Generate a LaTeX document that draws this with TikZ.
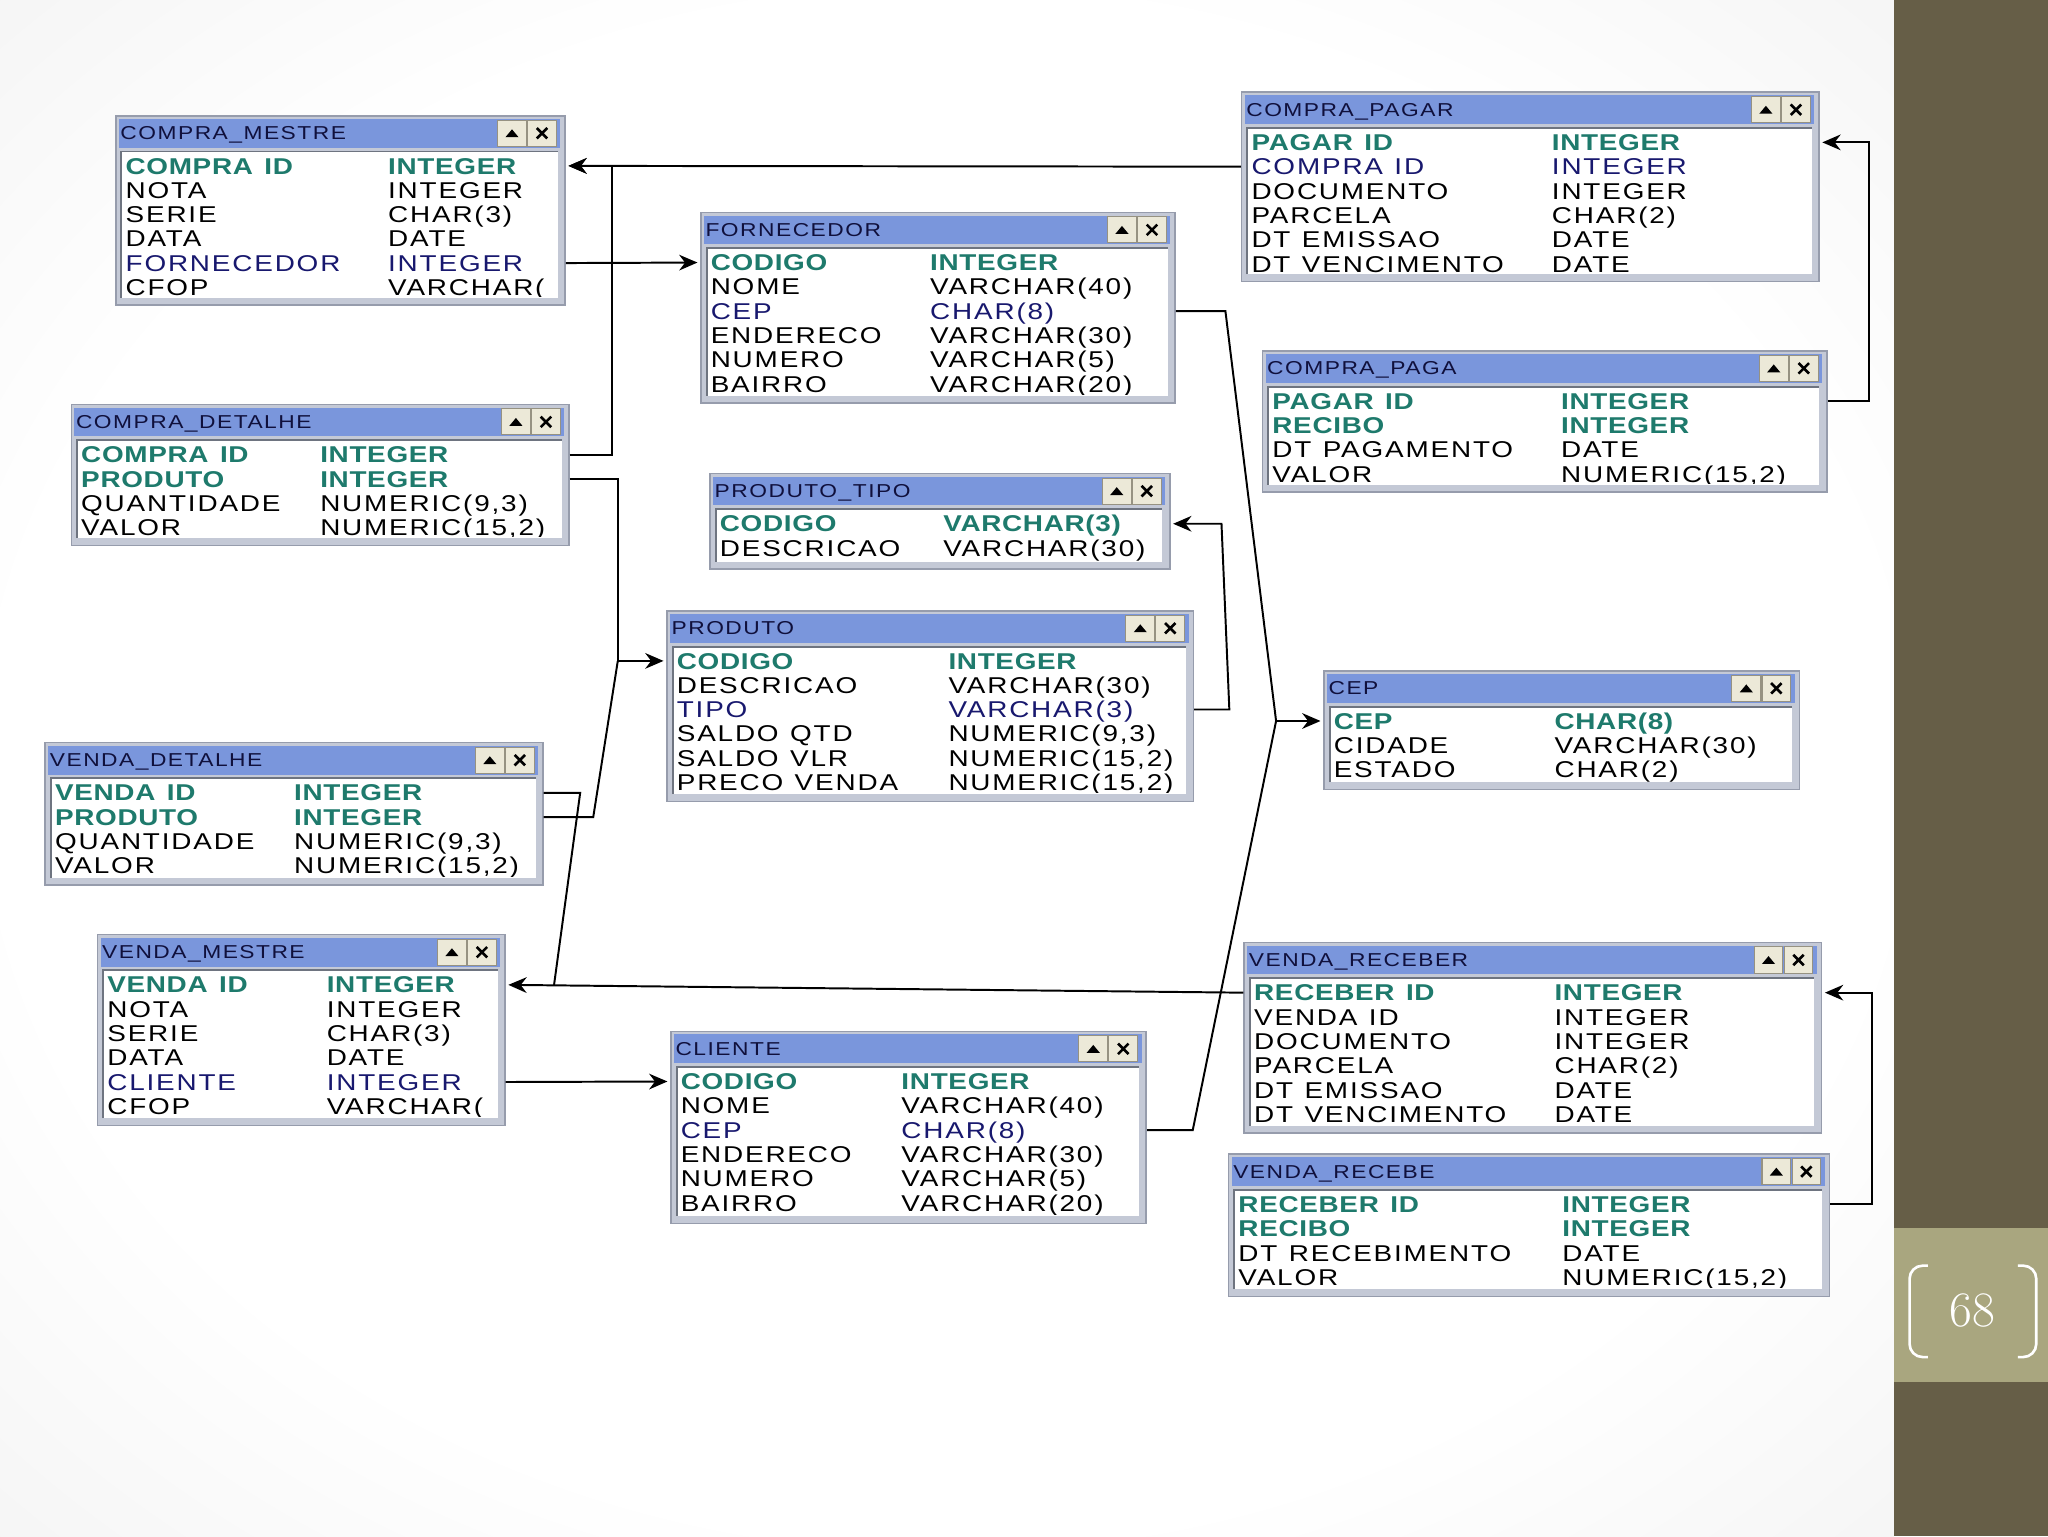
\documentclass[tikz,border=0pt]{standalone}
\usepackage{fontspec}
\usepackage{tikz}
\usetikzlibrary{arrows.meta,calc}
\newfontfamily\tabfont[FakeStretch=1.22,LetterSpace=8,BoldFeatures={LetterSpace=3}]{Liberation Sans}
\definecolor{pkcol}{RGB}{30,122,108}
\definecolor{fkcol}{RGB}{24,24,110}
\definecolor{titlecol}{RGB}{122,150,220}
\definecolor{titletext}{RGB}{16,16,60}
\definecolor{framecol}{RGB}{196,201,214}
\definecolor{framedge}{RGB}{150,156,172}
\definecolor{sunkcol}{RGB}{110,116,128}
\definecolor{btncol}{RGB}{236,233,216}
\definecolor{btnedge}{RGB}{150,146,130}
\definecolor{sidecol}{RGB}{102,94,71}
\definecolor{bandcol}{RGB}{169,166,127}
\pgfdeclareradialshading{slideglow}{\pgfpointorigin}{color(0bp)=(white); color(25bp)=(white); color(50bp)=(black!9); color(71bp)=(black!17)}

\begin{document}
\begin{tikzpicture}[x=1pt,y=-1pt,>=Stealth]
    \tikzset{
        field/.style={
            anchor=west,inner sep=0pt,text height=12.5pt,text depth=0pt,
            font=\tabfont\fontsize{17.5}{19}\selectfont
        },
        fld/.style={text=black},
        fk/.style={text=fkcol},
        pk/.style={text=pkcol,font=\tabfont\bfseries\fontsize{17.5}{19}\selectfont},
        tblframe/.style={draw=framedge,fill=framecol,line width=1.2pt,inner sep=0pt},
        tblname/.style={
            anchor=west,inner sep=0pt,text height=10pt,text depth=0pt,
            text=titletext,font=\tabfont\fontsize{14.3}{16}\selectfont
        },
        tblbutton/.style={fill=btncol,draw=btnedge,line width=0.8pt},
        link/.style={line width=1.5pt},
        linkto/.style={link,-{Stealth[length=14pt,width=12pt,inset=4.5pt]},shorten >=2pt},
        pagenum/.style={text=white,font=\fontsize{38}{38}\selectfont},
        bracket/.style={draw=white,line width=2pt,rounded corners=10pt},
        pics/dbtable/.style n args={5}{code={
            \node[tblframe,minimum width=#1pt,minimum height=#2pt,anchor=north west]
                (-box) at (0,0) {};
            \fill[titlecol] (3,3) rectangle (#1-3,25);
            \node[tblname] (-name) at (4,14) {#3};
            \filldraw[tblbutton] (#1-51,4) rectangle (#1-29,24);
            \filldraw[tblbutton] (#1-28,4) rectangle (#1-6,24);
            \fill (#1-45,17) -- (#1-35,17) -- (#1-40,11) -- cycle;
            \draw[line width=2pt] (#1-21,10) -- (#1-13,18) (#1-21,18) -- (#1-13,10);
            \fill[white] (5,28) rectangle (#1-5,#2-5);
            \draw[sunkcol,line width=1.5pt] (5,#2-5) -- (5,28) -- (#1-5,28);
            \begin{scope}
                \clip (6,29) rectangle (#1-6,#2-6);
                \foreach \fname/\ftype/\fstyle [count=\i] in {#5}{
                    \node[field,\fstyle] (-n\i) at (8,20.4+18.6*\i) {\fname};
                    \node[field,\fstyle] (-t\i) at (#4,20.4+18.6*\i) {\ftype};
                }
            \end{scope}
        }}
    }

    \useasboundingbox (0,0) rectangle (1568,1176);
    \shade[shading=slideglow] (0,0) rectangle (1450,1176);
    \fill[sidecol] (1450,0) rectangle (1568,1176);
    \fill[bandcol] (1450,940) rectangle (1568,1058);
    \draw[bracket] (1476,969) -- (1462,969) -- (1462,1039) -- (1476,1039);
    \draw[bracket] (1545,969) -- (1559,969) -- (1559,1039) -- (1545,1039);
    \node[pagenum] (pgnum) at (1510,1003) {68};

    \pic (cm) at (88,88) {dbtable={344}{145}{COMPRA\_MESTRE}{209}{COMPRA\enspace ID/INTEGER/pk,NOTA/INTEGER/fld,SERIE/CHAR(3)/fld,DATA/DATE/fld,FORNECEDOR/INTEGER/fk,CFOP/VARCHAR(/fld}};
    \pic (forn) at (536,162) {dbtable={363}{146}{FORNECEDOR}{176}{CODIGO/INTEGER/pk,NOME/VARCHAR(40)/fld,CEP/CHAR(8)/fk,ENDERECO/VARCHAR(30)/fld,NUMERO/VARCHAR(5)/fld,BAIRRO/VARCHAR(20)/fld}};
    \pic (cpagar) at (950,70) {dbtable={442}{145}{COMPRA\_PAGAR}{238}{PAGAR\enspace ID/INTEGER/pk,COMPRA\enspace ID/INTEGER/fk,DOCUMENTO/INTEGER/fld,PARCELA/CHAR(2)/fld,DT\enspace EMISSAO/DATE/fld,DT\enspace VENCIMENTO/DATE/fld}};
    \pic (cpaga) at (966,268) {dbtable={432}{108}{COMPRA\_PAGA}{229}{PAGAR\enspace ID/INTEGER/pk,RECIBO/INTEGER/pk,DT\enspace PAGAMENTO/DATE/fld,VALOR/{NUMERIC(15,2)}/fld}};
    \pic (cdet) at (54,309) {dbtable={381}{108}{COMPRA\_DETALHE}{191}{COMPRA\enspace ID/INTEGER/pk,PRODUTO/INTEGER/pk,QUANTIDADE/{NUMERIC(9,3)}/fld,VALOR/{NUMERIC(15,2)}/fld}};
    \pic (ptipo) at (543,362) {dbtable={352}{73}{PRODUTO\_TIPO}{179}{CODIGO/VARCHAR(3)/pk,DESCRICAO/VARCHAR(30)/fld}};
    \pic (prod) at (510,467) {dbtable={403}{146}{PRODUTO}{216}{CODIGO/INTEGER/pk,DESCRICAO/VARCHAR(30)/fld,TIPO/VARCHAR(3)/fk,SALDO\enspace QTD/{NUMERIC(9,3)}/fld,SALDO\enspace VLR/{NUMERIC(15,2)}/fld,PRECO\enspace VENDA/{NUMERIC(15,2)}/fld}};
    \pic (cep) at (1013,513) {dbtable={364}{91}{CEP}{177}{CEP/CHAR(8)/pk,CIDADE/VARCHAR(30)/fld,ESTADO/CHAR(2)/fld}};
    \pic (vdet) at (34,568) {dbtable={381}{109}{VENDA\_DETALHE}{191}{VENDA\enspace ID/INTEGER/pk,PRODUTO/INTEGER/pk,QUANTIDADE/{NUMERIC(9,3)}/fld,VALOR/{NUMERIC(15,2)}/fld}};
    \pic (vm) at (74,715) {dbtable={312}{146}{VENDA\_MESTRE}{176}{VENDA\enspace ID/INTEGER/pk,NOTA/INTEGER/fld,SERIE/CHAR(3)/fld,DATA/DATE/fld,CLIENTE/INTEGER/fk,CFOP/VARCHAR(/fld}};
    \pic (cli) at (513,789) {dbtable={364}{147}{CLIENTE}{177}{CODIGO/INTEGER/pk,NOME/VARCHAR(40)/fld,CEP/CHAR(8)/fk,ENDERECO/VARCHAR(30)/fld,NUMERO/VARCHAR(5)/fld,BAIRRO/VARCHAR(20)/fld}};
    \pic (vrec) at (952,721) {dbtable={442}{146}{VENDA\_RECEBER}{238}{RECEBER\enspace ID/INTEGER/pk,VENDA\enspace ID/INTEGER/fld,DOCUMENTO/INTEGER/fld,PARCELA/CHAR(2)/fld,DT\enspace EMISSAO/DATE/fld,DT\enspace VENCIMENTO/DATE/fld}};
    \pic (vrcb) at (940,883) {dbtable={460}{109}{VENDA\_RECEBE}{256}{RECEBER\enspace ID/INTEGER/pk,RECIBO/INTEGER/pk,DT\enspace RECEBIMENTO/DATE/fld,VALOR/{NUMERIC(15,2)}/fld}};

    \draw[linkto] (cpagar-box.west |- cpagar-n2) -- (cm-box.east |- cm-n1);
    \draw[linkto] (cdet-box.east |- cdet-n1) -| ($(cm-box.east |- cm-n1)+(35,0)$) -- (cm-box.east |- cm-n1);
    \draw[linkto] (cm-box.east |- cm-n5) -- (forn-box.west |- forn-n1);
    \draw[linkto] (cdet-box.east |- cdet-n2) -| ($(prod-box.west |- prod-n1)+(-37,0)$) -- (prod-box.west |- prod-n1);
    \draw[link] (vdet-box.east |- vdet-n2) -- ++(38,0) -- ($(prod-box.west |- prod-n1)+(-37,0)$);
    \draw[linkto] (vrec-box.west |- vrec-n1) -- (vm-box.east |- vm-n1);
    \draw[link] (vdet-box.east |- vdet-n1) -- ++(28,0) -- ($(vm-box.east |- vm-n1)+(37,0)$);
    \draw[linkto] (vm-box.east |- vm-n5) -- (cli-box.west |- cli-n1);
    \draw[linkto] (prod-box.east |- prod-n3) -- ++(27,0) -- ($(ptipo-box.east |- ptipo-n1)+(39,0)$) -- (ptipo-box.east |- ptipo-n1);
    \draw[linkto] (forn-box.east |- forn-n3) -- ++(38,0) -- ($(cep-box.west |- cep-n1)+(-36,0)$) -- (cep-box.west |- cep-n1);
    \draw[link] (cli-box.east |- cli-n3) -- ++(35,0) -- ($(cep-box.west |- cep-n1)+(-36,0)$);
    \draw[linkto] (cpaga-box.east |- cpaga-n1) -- ++(32,0) |- (cpagar-box.east |- cpagar-n1);
    \draw[linkto] (vrcb-box.east |- vrcb-n1) -- ++(32,0) |- (vrec-box.east |- vrec-n1);
\end{tikzpicture}
\end{document}
